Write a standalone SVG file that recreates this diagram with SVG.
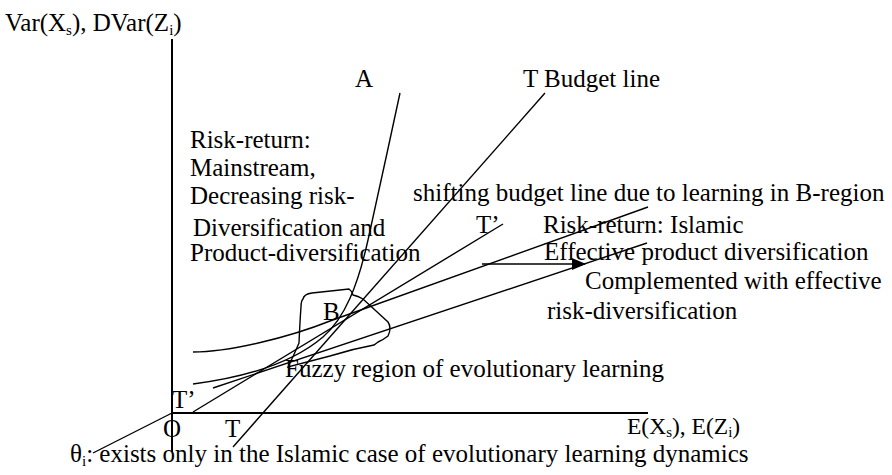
<svg xmlns="http://www.w3.org/2000/svg" width="892" height="475" viewBox="0 0 892 475">
<defs>
<style>
text{font-family:"Liberation Serif","Times New Roman",serif;fill:#000;font-size:25px;}
.ax{font-size:23.5px;}
.sub{font-size:15px;}
.ln{fill:none;stroke:#000;stroke-width:1.4;}
.axis{fill:none;stroke:#000;stroke-width:2;}
</style>
<marker id="arr" viewBox="0 0 14 12" refX="13" refY="6" markerWidth="14" markerHeight="12" markerUnits="userSpaceOnUse" orient="auto">
<path d="M0,0 L14,6 L0,12 Z" fill="#000"/>
</marker>
</defs>
<rect width="892" height="475" fill="#fff"/>
<g id="axes">
<line class="axis" x1="172" y1="39" x2="172" y2="452"/>
<line class="axis" x1="171" y1="413" x2="648" y2="413"/>
</g>
<g id="connectors">
<line class="ln" x1="93" y1="453" x2="172" y2="413"/>
<line class="ln" x1="233" y1="447" x2="545" y2="93"/>
<line class="ln" x1="193" y1="412" x2="503" y2="224"/>
<path class="ln" d="M193,384 C240,378 290,365 323,337 C345,318 358,285 368,240 C375,208 390,140 400,93"/>
<path class="ln" d="M193,352 C230,352 290,337 330,321 L648,207"/>
<line class="ln" x1="213" y1="388" x2="647" y2="243"/>
<line class="ln" x1="482" y1="264" x2="585" y2="264" marker-end="url(#arr)"/>
</g>
<g id="fuzzy-region">
<path class="ln" d="M303,299 Q304,294 312,293 L349,289 Q352,291 353,295 Q358,296 363,299 L388,322 Q392,328 388,336 Q383,340 378,342 L374,345 Q352,349 330,356 L288,367 Q294,355 299,343 Q300,320 301,307 Q301,301 303,299 Z"/>
</g>
<g id="y-label"><text x="5" y="31">Var(X<tspan class="sub" dy="4">s</tspan><tspan dy="-4">), DVar(Z</tspan><tspan class="sub" dy="4">i</tspan><tspan dy="-4">)</tspan></text></g>
<g id="x-label"><text class="ax" x="627" y="434">E(X<tspan class="sub" dy="3">s</tspan><tspan dy="-3">), E(Z</tspan><tspan class="sub" dy="3">i</tspan><tspan dy="-3">)</tspan></text></g>
<g id="label-A"><text x="355" y="87">A</text></g>
<g id="label-T-budget"><text x="523" y="87">T Budget line</text></g>
<g id="mainstream-note">
<text x="190" y="148">Risk-return:</text>
<text x="190" y="176">Mainstream,</text>
<text x="190" y="204">Decreasing risk-</text>
<text x="193" y="236">Diversification and</text>
<text x="190" y="261">Product-diversification</text>
</g>
<g id="shift-note"><text x="413" y="201">shifting budget line due to learning in B-region</text></g>
<g id="label-T-prime"><text x="476" y="233">T’</text></g>
<g id="islamic-note">
<text x="543" y="233">Risk-return: Islamic</text>
<text x="544" y="260">Effective product diversification</text>
<text x="585" y="289">Complemented with effective</text>
<text x="547" y="319">risk-diversification</text>
</g>
<g id="label-B"><text x="323" y="320">B</text></g>
<g id="fuzzy-label"><text x="285" y="377">Fuzzy region of evolutionary learning</text></g>
<g id="label-T-prime-origin"><text x="172" y="408">T’</text></g>
<g id="label-O"><text x="163" y="437">O</text></g>
<g id="label-T"><text x="225" y="437">T</text></g>
<g id="theta-note"><text x="70" y="462">θ<tspan class="sub" dy="4">i</tspan><tspan dy="-4">: exists only in the Islamic case of evolutionary learning dynamics</tspan></text></g>
</svg>
